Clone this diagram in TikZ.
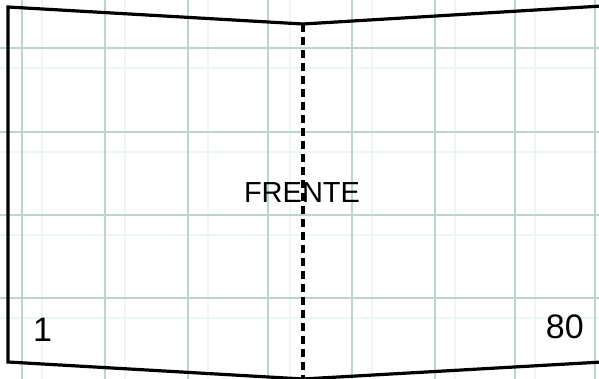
\documentclass[tikz,border=0pt]{standalone}
\usepackage{fontspec}
\setmainfont{Liberation Sans}
\definecolor{gridmain}{RGB}{188,212,203}
\definecolor{gridfaint}{RGB}{236,246,243}
\tikzset{
  gridline/.style={gridmain, line width=2.6pt},
  faintline/.style={gridfaint, line width=2pt},
  outline/.style={black, line width=3.2pt, line join=miter},
  foldline/.style={black, line width=3.2pt, dash pattern=on 8pt off 5pt},
  bigtext/.style={font=\fontsize{29}{31}\selectfont, inner sep=0pt},
  numtext/.style={font=\fontsize{34}{36}\selectfont, inner sep=0pt}
}
\begin{document}
\begin{tikzpicture}[x=1pt,y=-1pt]
\useasboundingbox (0,0) rectangle (599,379);
\fill[white] (0,0) rectangle (599,379);
% faint secondary grid
\foreach \x in {42,125,208,290,372,455,535}
  \draw[faintline] (\x,0) -- (\x,379);
\foreach \y in {68,152,235,318}
  \draw[faintline] (0,\y) -- (599,\y);
% main grid
\foreach \x in {22,105,188,268,352,435,515,595}
  \draw[gridline] (\x,0) -- (\x,379);
\foreach \y in {48,132,215,298}
  \draw[gridline] (0,\y) -- (599,\y);
% book outline
\coordinate (tl) at (8,7);
\coordinate (tm) at (303,24);
\coordinate (tr) at (602,6);
\coordinate (bl) at (8,362);
\coordinate (bm) at (303,379);
\coordinate (br) at (602,362);
\draw[outline] (tr) -- (tm) -- (tl) -- (bl) -- (bm) -- (br);
\draw[foldline] (tm) -- (303,381);
% texts
\node[bigtext] (frente) at (302,193) {FRENTE};
\node[numtext, anchor=base west] (one) at (33,341) {1};
\node[numtext, anchor=base east] (eighty) at (584,338) {80};
\end{tikzpicture}
\end{document}
